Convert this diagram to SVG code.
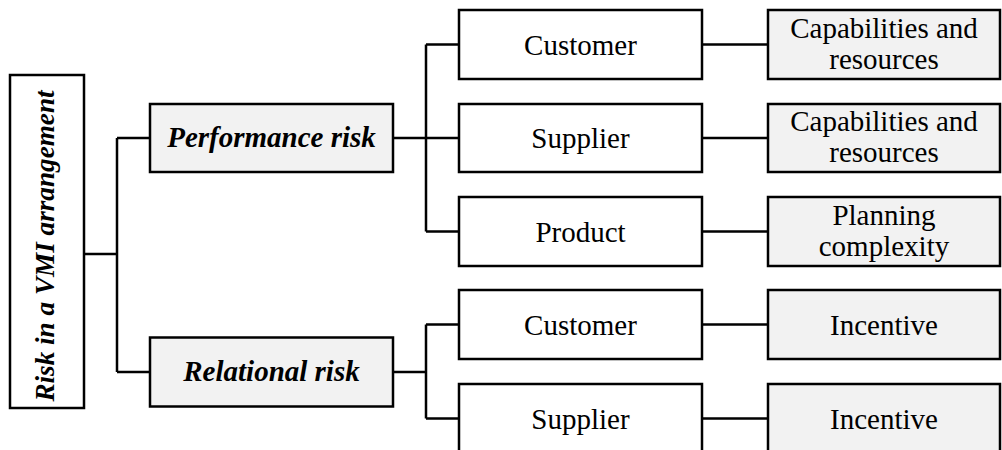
<svg xmlns="http://www.w3.org/2000/svg" width="1002" height="450" viewBox="0 0 1002 450">
  <style>
    .box { stroke: #000; stroke-width: 2.5; }
    .plain { fill: #fff; }
    .shaded { fill: #f2f2f2; }
    .lbl { font-family: "Liberation Serif", "Times New Roman", serif; font-size: 29px; fill: #000; text-anchor: middle; }
    .head { font-weight: bold; font-style: italic; }
    .wire { fill: none; stroke: #000; stroke-width: 2.5; }
  </style>

  <!-- connectors -->
  <g id="connectors">
    <path class="wire" d="M84,254 H117 M117,138 V372 M117,138 H150 M117,372 H150"/>
    <path class="wire" d="M393,138 H426 M426,44.5 V231.5 M426,44.5 H459 M426,138 H459 M426,231.5 H459"/>
    <path class="wire" d="M393,372 H426 M426,324.5 V418.5 M426,324.5 H459 M426,418.5 H459"/>
    <path class="wire" d="M702,44.5 H768 M702,138 H768 M702,231.5 H768 M702,324.5 H768 M702,418.5 H768"/>
  </g>

  <!-- root -->
  <g id="root">
    <rect class="box plain" x="10" y="75" width="74" height="333"/>
    <text class="lbl head" style="font-size:27.2px" transform="translate(54,246) rotate(-90)">Risk in a VMI arrangement</text>
  </g>

  <!-- risk categories -->
  <g id="performance-risk">
    <rect class="box shaded" x="150" y="104" width="243" height="68"/>
    <text class="lbl head" x="271.5" y="147">Performance risk</text>
  </g>
  <g id="relational-risk">
    <rect class="box shaded" x="150" y="337.5" width="243" height="69"/>
    <text class="lbl head" x="271.5" y="381">Relational risk</text>
  </g>

  <!-- parties -->
  <g id="perf-customer">
    <rect class="box plain" x="459" y="10" width="243" height="69"/>
    <text class="lbl" x="580.5" y="54.5">Customer</text>
  </g>
  <g id="perf-supplier">
    <rect class="box plain" x="459" y="104" width="243" height="68"/>
    <text class="lbl" x="580.5" y="148">Supplier</text>
  </g>
  <g id="perf-product">
    <rect class="box plain" x="459" y="197" width="243" height="69"/>
    <text class="lbl" x="580.5" y="241.5">Product</text>
  </g>
  <g id="rel-customer">
    <rect class="box plain" x="459" y="290" width="243" height="69"/>
    <text class="lbl" x="580.5" y="334.5">Customer</text>
  </g>
  <g id="rel-supplier">
    <rect class="box plain" x="459" y="384" width="243" height="69"/>
    <text class="lbl" x="580.5" y="428.5">Supplier</text>
  </g>

  <!-- factors -->
  <g id="perf-customer-factor">
    <rect class="box shaded" x="768" y="10" width="232" height="69"/>
    <text class="lbl" x="884" y="37.5">Capabilities and</text>
    <text class="lbl" x="884" y="68.5">resources</text>
  </g>
  <g id="perf-supplier-factor">
    <rect class="box shaded" x="768" y="104" width="232" height="68"/>
    <text class="lbl" x="884" y="131">Capabilities and</text>
    <text class="lbl" x="884" y="162">resources</text>
  </g>
  <g id="perf-product-factor">
    <rect class="box shaded" x="768" y="197" width="232" height="69"/>
    <text class="lbl" x="884" y="224.5">Planning</text>
    <text class="lbl" x="884" y="255.5">complexity</text>
  </g>
  <g id="rel-customer-factor">
    <rect class="box shaded" x="768" y="290" width="232" height="69"/>
    <text class="lbl" x="884" y="334.5">Incentive</text>
  </g>
  <g id="rel-supplier-factor">
    <rect class="box shaded" x="768" y="384" width="232" height="69"/>
    <text class="lbl" x="884" y="428.5">Incentive</text>
  </g>
</svg>
